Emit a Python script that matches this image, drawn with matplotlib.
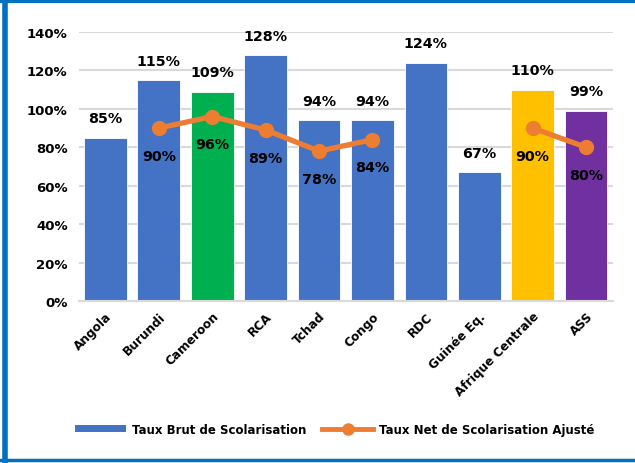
import matplotlib
matplotlib.use("Agg")
import matplotlib.pyplot as plt
import numpy as np
from matplotlib.lines import Line2D
from matplotlib.patches import Patch

categories = ["Angola", "Burundi", "Cameroon", "RCA", "Tchad", "Congo", "RDC",
              "Guinée Eq.", "Afrique Centrale", "ASS"]
tbs = [85, 115, 109, 128, 94, 94, 124, 67, 110, 99]
tns = [np.nan, 90, 96, 89, 78, 84, np.nan, np.nan, 90, 80]
bar_colors = ["#4472C4", "#4472C4", "#00B050", "#4472C4", "#4472C4", "#4472C4",
              "#4472C4", "#4472C4", "#FFC000", "#7030A0"]
yticks = [0, 20, 40, 60, 80, 100, 120, 140]

plt.rcParams['font.family'] = ['DejaVu Sans']
fig = plt.figure(figsize=(6.35, 4.64), dpi=100)
ax = fig.add_axes([0.124, 0.349, 0.841, 0.58])

x = np.arange(len(categories))
ax.bar(x, tbs, width=0.8, color=bar_colors, edgecolor="white", linewidth=0.6, zorder=2)
ax.plot(x, tns, color="#ED7D31", linewidth=3.8, marker="o", markersize=10, zorder=3)

for xi, v in zip(x, tbs):
    ax.annotate(f"{v}%", (xi, v), xytext=(0, 14), textcoords="offset points",
                ha="center", va="center", fontsize=10.3, fontweight="bold", color="black")
for xi, v in zip(x, tns):
    if not np.isnan(v):
        ax.annotate(f"{v:.0f}%", (xi, v), xytext=(0, -20), textcoords="offset points",
                    ha="center", va="center", fontsize=10.3, fontweight="bold", color="black",
                    zorder=4)

ax.set_ylim(0, 140)
ax.set_xlim(-0.5, len(categories) - 0.5)
ax.set_yticks(yticks)
ax.set_yticklabels([f"{t}%" for t in yticks], fontsize=9.5, fontweight="bold")
ax.set_xticks(x)
ax.set_xticklabels(categories, rotation=45, ha="right", rotation_mode="anchor",
                   fontsize=8.7, fontweight="bold")
ax.tick_params(axis="both", length=0, pad=8)
ax.tick_params(axis="x", pad=6)
ax.yaxis.grid(True, color="#D9D9D9", linewidth=1.5, zorder=0)
ax.set_axisbelow(True)
for s in ["top", "right", "left"]:
    ax.spines[s].set_visible(False)
ax.spines["bottom"].set_color("#D9D9D9")
ax.spines["bottom"].set_linewidth(1.5)

handles = [Patch(facecolor="#4472C4", label="Taux Brut de Scolarisation"),
           Line2D([0], [0], color="#ED7D31", linewidth=3.5, marker="o", markersize=8,
                  label="Taux Net de Scolarisation Ajusté")]
leg = fig.legend(handles=handles, loc="center", bbox_to_anchor=(0.527, 0.073), ncol=2,
                 frameon=False, prop={"size": 8.5, "weight": "bold"},
                 handlelength=4.3, handleheight=0.6, columnspacing=1.4, handletextpad=0.5)

# blue frame
blue = "#0070C0"
fig.add_artist(Line2D([0.008, 0.008], [0.0, 0.996], color=blue, linewidth=4, transform=fig.transFigure))
fig.add_artist(Line2D([0.0, 1.0], [0.996, 0.996], color=blue, linewidth=3, transform=fig.transFigure))
fig.add_artist(Line2D([0.0, 1.0], [0.006, 0.006], color=blue, linewidth=2.5, transform=fig.transFigure))

fig.savefig("out.png", dpi=100)
